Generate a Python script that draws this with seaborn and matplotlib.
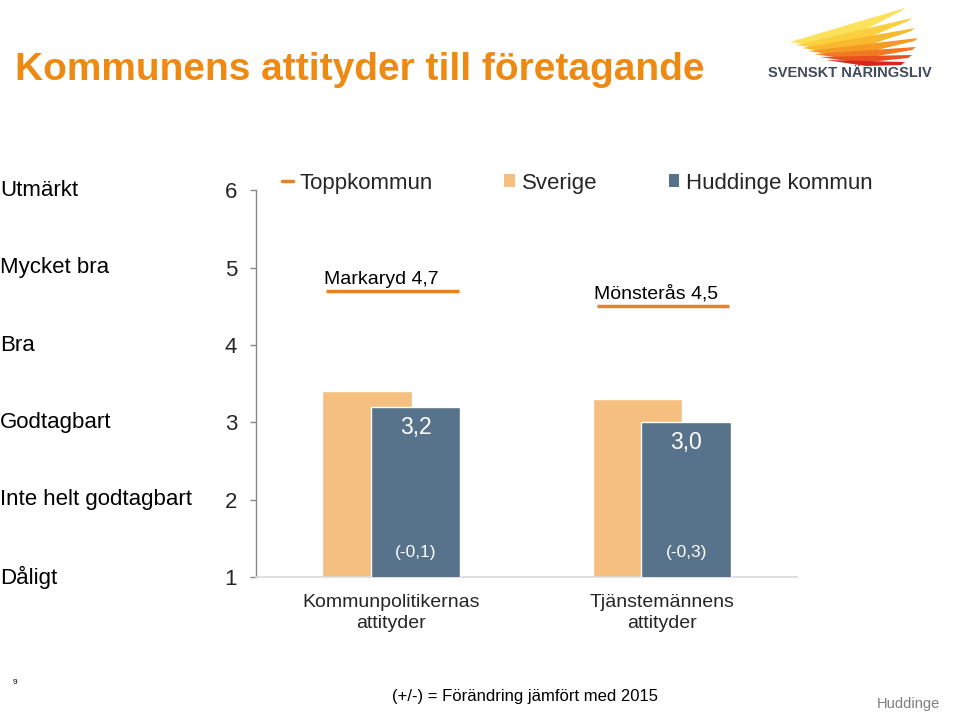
import numpy as np
import pandas as pd
import matplotlib
matplotlib.use("Agg")
import matplotlib.pyplot as plt
from matplotlib.lines import Line2D
from matplotlib.patches import Patch, Polygon
import seaborn as sns

# ---- data ----
categories = ["Kommunpolitikernas\nattityder", "Tjänstemännens\nattityder"]
sverige = [3.4, 3.3]
huddinge = [3.2, 3.0]
huddinge_labels = ["3,2", "3,0"]
change_labels = ["(-0,1)", "(-0,3)"]
topp_names = ["Markaryd", "Mönsterås"]
topp_values = [4.7, 4.5]
y_ticks = [1, 2, 3, 4, 5, 6]
scale_labels = ["Dåligt", "Inte helt godtagbart", "Godtagbart", "Bra", "Mycket bra", "Utmärkt"]
series_names = ["Toppkommun", "Sverige", "Huddinge kommun"]

C_ORANGE = "#F5BF80"
C_BLUE = "#57738C"
C_LINE = "#E8821E"
C_TITLE = "#EE8A12"

sns.set_theme(style="white")
plt.rcParams["font.family"] = ["Liberation Sans", "DejaVu Sans"]

fig = plt.figure(figsize=(9.6, 7.12), dpi=100)
ax = fig.add_axes([256 / 960, 1 - 577 / 712, (797 - 256) / 960, (577 - 190.5) / 712])

pos = np.arange(len(categories))
off = 0.09
bw = 0.33

df_s = pd.DataFrame({"x": pos - off, "y": sverige})
df_h = pd.DataFrame({"x": pos + off, "y": huddinge})
sns.barplot(data=df_s, x="x", y="y", native_scale=True, width=bw, color=C_ORANGE,
            saturation=1, errorbar=None, ax=ax, zorder=2)
sns.barplot(data=df_h, x="x", y="y", native_scale=True, width=bw, color=C_BLUE,
            saturation=1, errorbar=None, ax=ax, zorder=3)

# Toppkommun lines
ax.hlines(topp_values, pos - 0.24, pos + 0.25, color=C_LINE, lw=2.5, zorder=4)
for p, n, v in zip(pos, topp_names, topp_values):
    ax.annotate(f"{n} {str(v).replace('.', ',')}", xy=(p - 0.25, v), xytext=(0, 2.5),
                textcoords="offset points", ha="left", va="bottom", fontsize=14, color="black")

# value labels
for p, v, lab, ch in zip(pos, huddinge, huddinge_labels, change_labels):
    ax.annotate(lab, xy=(p + off, v), xytext=(0, -14.5), textcoords="offset points",
                ha="center", va="center", fontsize=16.5, color="white", zorder=5)
    ax.annotate(ch, xy=(p + off, 1), xytext=(0, 18), textcoords="offset points",
                ha="center", va="center", fontsize=12.5, color="white", zorder=5)

ax.set_xlim(-0.5, 1.5)
ax.set_ylim(1, 6)
ax.set_yticks(y_ticks)
ax.set_yticklabels([str(t) for t in y_ticks], fontsize=16)
ax.set_xticks(pos)
ax.set_xticklabels(categories, fontsize=14, linespacing=1.3)
ax.set_xlabel("")
ax.set_ylabel("")
ax.tick_params(axis="y", direction="out", length=4.5, width=1, color="#888888", pad=9, left=True)
ax.tick_params(axis="x", length=0, pad=12)
for s in ["top", "right"]:
    ax.spines[s].set_visible(False)
ax.spines["left"].set_color("#888888")
ax.spines["left"].set_linewidth(1)
ax.spines["bottom"].set_color("#D9D9D9")
ax.spines["bottom"].set_linewidth(1.2)
ax.set_facecolor("white")
ax.grid(False)

# scale labels on the far left
trans = matplotlib.transforms.blended_transform_factory(fig.transFigure, ax.transData)
for t, lab in zip(y_ticks, scale_labels):
    ax.text(0.0, t, lab, transform=trans, ha="left", va="center", fontsize=16,
            color="black", clip_on=False)

# legend
handles = [Line2D([0], [0], color=C_LINE, lw=2.5),
           Patch(facecolor=C_ORANGE, edgecolor="none"),
           Patch(facecolor=C_BLUE, edgecolor="none")]
fig.legend(handles, series_names, loc="center left", bbox_to_anchor=(282 / 960, 1 - 183 / 712),
           ncol=3, frameon=False, fontsize=16, handlelength=0.48, handleheight=0.5,
           handletextpad=0.32, columnspacing=3.2, borderpad=0, borderaxespad=0)

# title
fig.text(15 / 960, 1 - 70 / 712, "Kommunens attityder till företagande", fontsize=28,
         fontweight="bold", color=C_TITLE, ha="left", va="center")

# logo
wing_cols = ["#FCE15A", "#FBD040", "#F9B92E", "#F59A25", "#F07A22", "#E8501F", "#D9261C"]
tips = [(905, 8), (912, 18), (915, 28), (918, 38), (916, 47), (912, 55), (905, 62)]
for i, (c, (tx, ty)) in enumerate(zip(wing_cols, tips)):
    base_x = 790 + i * 6
    base_y = 42 + i * 3
    poly = Polygon([(base_x / 960, 1 - base_y / 712),
                    (tx / 960, 1 - ty / 712),
                    (tx / 960 - 0.004, 1 - (ty + 3) / 712),
                    ((base_x + 40) / 960, 1 - (base_y + 6) / 712)],
                   closed=True, transform=fig.transFigure, facecolor=c, edgecolor="none")
    fig.add_artist(poly)
fig.text(850 / 960, 1 - 73 / 712, "SVENSKT NÄRINGSLIV", fontsize=10.5, fontweight="bold",
         color="#3F4B5B", ha="center", va="center")

# footer
fig.text(15 / 960, 1 - 683 / 712, "9", fontsize=6, color="black", ha="center", va="center")
fig.text(525 / 960, 1 - 696 / 712, "(+/-) = Förändring jämfört med 2015", fontsize=12,
         color="black", ha="center", va="center")
fig.text(940 / 960, 1 - 704 / 712, "Huddinge", fontsize=10.5, color="#7F7F7F",
         ha="right", va="center")

fig.savefig("out.png", dpi=100, facecolor="white")
